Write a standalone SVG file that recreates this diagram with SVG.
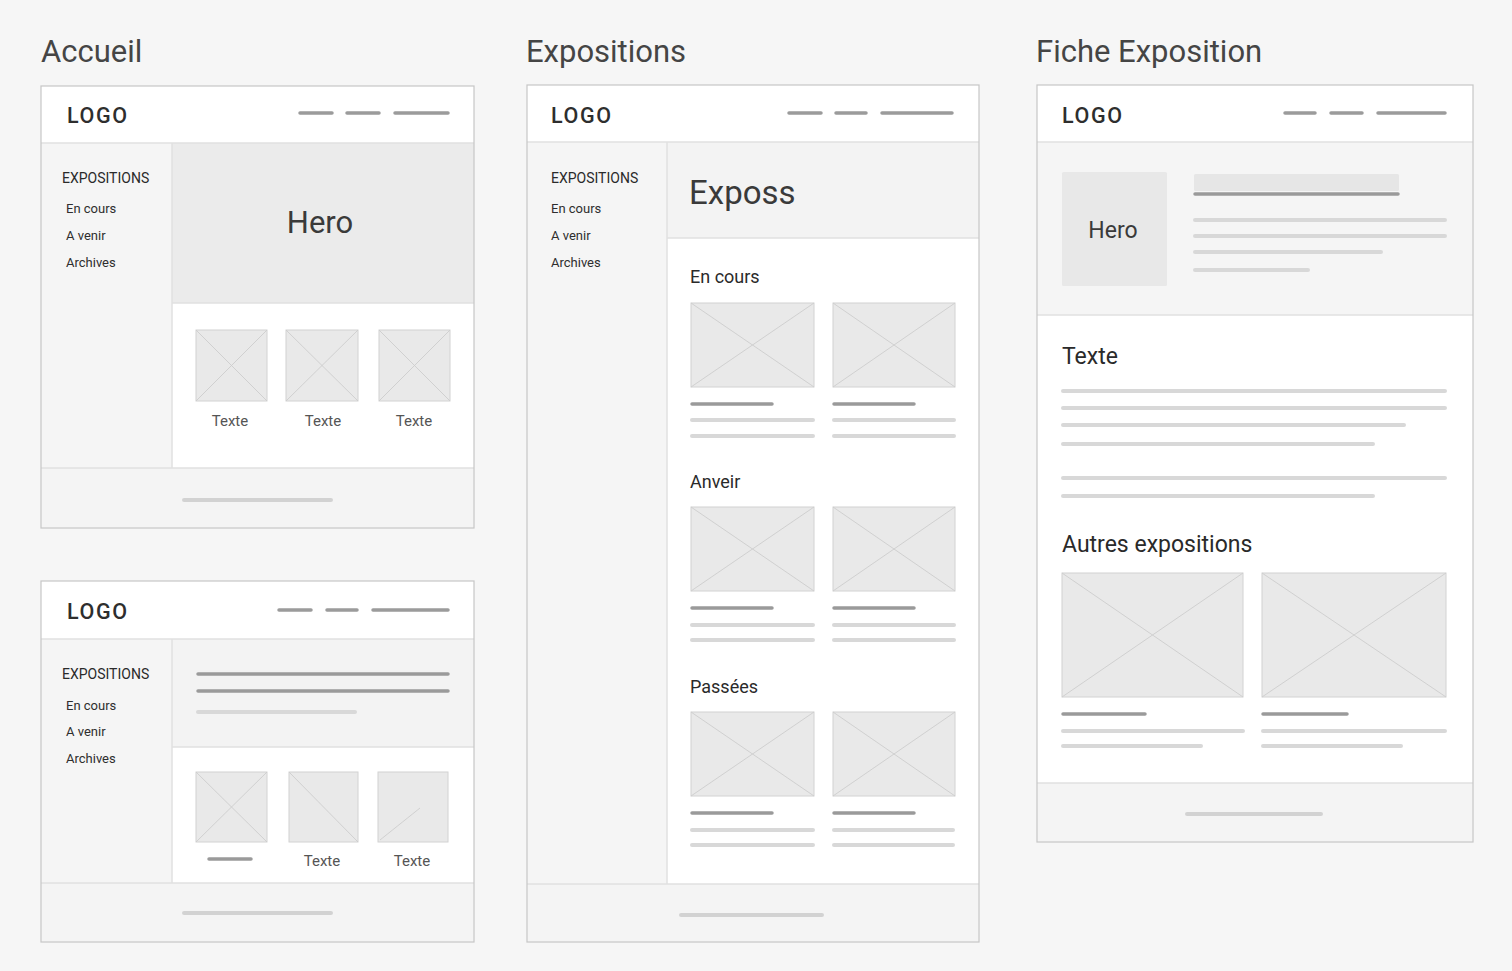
<svg xmlns="http://www.w3.org/2000/svg" width="1512" height="971" viewBox="0 0 1512 971">
<defs>
<style>
text{font-family:Roboto,"Liberation Sans",Arial,sans-serif;fill:#3a3a3a}
.title{font-size:31px;fill:#454545}
.logo{font-size:21.5px;letter-spacing:1.6px;fill:#2e2e2e;font-weight:500}
.side{font-size:14px;fill:#2a2a2a}
.sub{font-size:13px;fill:#2e2e2e}
.lbl{font-size:15px;fill:#555;text-anchor:middle}
.h{font-size:18px;fill:#2a2a2a}
.h2{font-size:23px;fill:#2a2a2a}
.frame{fill:none;stroke:#c6c6c6;stroke-width:1.2}
.sep{stroke:#e1e1e1;stroke-width:1.5;fill:none}
.sidebar{fill:#f5f5f5}
.band{fill:#f3f3f3}
.foot{fill:#f4f4f4}
.nav{stroke:#9b9b9b;stroke-width:3.5;stroke-linecap:round}
.dk{stroke:#9a9a9a;stroke-width:3.5;stroke-linecap:round}
.lt{stroke:#d8d8d8;stroke-width:4;stroke-linecap:round}
.ftb{stroke:#d2d2d2;stroke-width:4;stroke-linecap:round}
.ph{fill:#e9e9e9;stroke:#d2d2d2;stroke-width:1}
.x{stroke:#cdcdcd;stroke-width:0.9}
</style>
</defs>
<rect width="1512" height="971" fill="#f6f6f6"/>

<g id="titles">
<text class="title" x="41" y="62">Accueil</text>
<text class="title" x="526" y="62">Expositions</text>
<text class="title" x="1036" y="62">Fiche Exposition</text>
</g>

<g id="accueil-1">
<rect x="41" y="86" width="433" height="442" fill="#fff"/>
<rect class="sidebar" x="41" y="143" width="131" height="325"/>
<rect x="172" y="143" width="302" height="160" fill="#ebebeb"/>
<rect class="foot" x="41" y="468" width="433" height="60"/>
<line class="sep" x1="41" y1="143" x2="474" y2="143"/>
<line class="sep" x1="172" y1="143" x2="172" y2="468"/>
<line class="sep" x1="172" y1="303" x2="474" y2="303"/>
<line class="sep" x1="41" y1="468" x2="474" y2="468"/>
<text class="logo" x="67" y="123">LOGO</text>
<line class="nav" x1="300" y1="113" x2="332" y2="113"/>
<line class="nav" x1="347" y1="113" x2="379" y2="113"/>
<line class="nav" x1="395" y1="113" x2="448" y2="113"/>
<text class="side" x="62" y="183">EXPOSITIONS</text>
<text class="sub" x="66" y="213">En cours</text>
<text class="sub" x="66" y="240">A venir</text>
<text class="sub" x="66" y="267">Archives</text>
<text x="320" y="233" font-size="31" text-anchor="middle" fill="#444">Hero</text>
<rect class="ph" x="196" y="330" width="71" height="71"/>
<line class="x" x1="196" y1="330" x2="267" y2="401"/><line class="x" x1="267" y1="330" x2="196" y2="401"/>
<rect class="ph" x="286" y="330" width="72" height="71"/>
<line class="x" x1="286" y1="330" x2="358" y2="401"/><line class="x" x1="358" y1="330" x2="286" y2="401"/>
<rect class="ph" x="379" y="330" width="71" height="71"/>
<line class="x" x1="379" y1="330" x2="450" y2="401"/><line class="x" x1="450" y1="330" x2="379" y2="401"/>
<text class="lbl" x="230" y="426">Texte</text>
<text class="lbl" x="323" y="426">Texte</text>
<text class="lbl" x="414" y="426">Texte</text>
<line class="ftb" x1="184" y1="500" x2="331" y2="500"/>
<rect class="frame" x="41" y="86" width="433" height="442"/>
</g>

<g id="accueil-2">
<rect x="41" y="581" width="433" height="361" fill="#fff"/>
<rect class="sidebar" x="41" y="639" width="131" height="244"/>
<rect class="band" x="172" y="639" width="302" height="108"/>
<rect class="foot" x="41" y="883" width="433" height="59"/>
<line class="sep" x1="41" y1="639" x2="474" y2="639"/>
<line class="sep" x1="172" y1="639" x2="172" y2="883"/>
<line class="sep" x1="172" y1="747" x2="474" y2="747"/>
<line class="sep" x1="41" y1="883" x2="474" y2="883"/>
<text class="logo" x="67" y="619">LOGO</text>
<line class="nav" x1="279" y1="610" x2="311" y2="610"/>
<line class="nav" x1="327" y1="610" x2="357" y2="610"/>
<line class="nav" x1="373" y1="610" x2="448" y2="610"/>
<text class="side" x="62" y="679">EXPOSITIONS</text>
<text class="sub" x="66" y="710">En cours</text>
<text class="sub" x="66" y="736">A venir</text>
<text class="sub" x="66" y="763">Archives</text>
<line class="dk" x1="198" y1="674" x2="448" y2="674"/>
<line class="dk" x1="198" y1="691" x2="448" y2="691"/>
<line class="lt" x1="198" y1="712" x2="355" y2="712"/>
<rect class="ph" x="196" y="772" width="71" height="70"/>
<line class="x" x1="196" y1="772" x2="267" y2="842"/><line class="x" x1="267" y1="772" x2="196" y2="842"/>
<rect class="ph" x="289" y="772" width="69" height="70"/>
<line class="x" x1="289" y1="772" x2="358" y2="842"/>
<rect class="ph" x="378" y="772" width="70" height="70"/>
<line class="x" x1="380" y1="840" x2="420" y2="808"/>
<line class="dk" x1="209" y1="859" x2="251" y2="859"/>
<text class="lbl" x="322" y="866">Texte</text>
<text class="lbl" x="412" y="866">Texte</text>
<line class="ftb" x1="184" y1="913" x2="331" y2="913"/>
<rect class="frame" x="41" y="581" width="433" height="361"/>
</g>

<g id="expositions">
<rect x="527" y="85" width="452" height="857" fill="#fff"/>
<rect class="sidebar" x="527" y="142" width="140" height="742"/>
<rect class="band" x="667" y="142" width="312" height="96"/>
<rect class="foot" x="527" y="884" width="452" height="58"/>
<line class="sep" x1="527" y1="142" x2="979" y2="142"/>
<line class="sep" x1="667" y1="142" x2="667" y2="884"/>
<line class="sep" x1="667" y1="238" x2="979" y2="238"/>
<line class="sep" x1="527" y1="884" x2="979" y2="884"/>
<text class="logo" x="551" y="123">LOGO</text>
<line class="nav" x1="789" y1="113" x2="821" y2="113"/>
<line class="nav" x1="836" y1="113" x2="866" y2="113"/>
<line class="nav" x1="882" y1="113" x2="952" y2="113"/>
<text class="side" x="551" y="183">EXPOSITIONS</text>
<text class="sub" x="551" y="213">En cours</text>
<text class="sub" x="551" y="240">A venir</text>
<text class="sub" x="551" y="267">Archives</text>
<text x="689" y="204" font-size="33" fill="#444">Exposs</text>

<text class="h" x="690" y="283">En cours</text>
<rect class="ph" x="691" y="303" width="123" height="84"/>
<line class="x" x1="691" y1="303" x2="814" y2="387"/><line class="x" x1="814" y1="303" x2="691" y2="387"/>
<rect class="ph" x="833" y="303" width="122" height="84"/>
<line class="x" x1="833" y1="303" x2="955" y2="387"/><line class="x" x1="955" y1="303" x2="833" y2="387"/>
<line class="dk" x1="692" y1="404" x2="772" y2="404"/>
<line class="dk" x1="834" y1="404" x2="914" y2="404"/>
<line class="lt" x1="692" y1="420" x2="813" y2="420"/>
<line class="lt" x1="834" y1="420" x2="954" y2="420"/>
<line class="lt" x1="692" y1="436" x2="813" y2="436"/>
<line class="lt" x1="834" y1="436" x2="954" y2="436"/>

<text class="h" x="690" y="488">Anveir</text>
<rect class="ph" x="691" y="507" width="123" height="84"/>
<line class="x" x1="691" y1="507" x2="814" y2="591"/><line class="x" x1="814" y1="507" x2="691" y2="591"/>
<rect class="ph" x="833" y="507" width="122" height="84"/>
<line class="x" x1="833" y1="507" x2="955" y2="591"/><line class="x" x1="955" y1="507" x2="833" y2="591"/>
<line class="dk" x1="692" y1="608" x2="772" y2="608"/>
<line class="dk" x1="834" y1="608" x2="914" y2="608"/>
<line class="lt" x1="692" y1="625" x2="813" y2="625"/>
<line class="lt" x1="834" y1="625" x2="954" y2="625"/>
<line class="lt" x1="692" y1="640" x2="813" y2="640"/>
<line class="lt" x1="834" y1="640" x2="954" y2="640"/>

<text class="h" x="690" y="693">Passées</text>
<rect class="ph" x="691" y="712" width="123" height="84"/>
<line class="x" x1="691" y1="712" x2="814" y2="796"/><line class="x" x1="814" y1="712" x2="691" y2="796"/>
<rect class="ph" x="833" y="712" width="122" height="84"/>
<line class="x" x1="833" y1="712" x2="955" y2="796"/><line class="x" x1="955" y1="712" x2="833" y2="796"/>
<line class="dk" x1="692" y1="813" x2="772" y2="813"/>
<line class="dk" x1="834" y1="813" x2="914" y2="813"/>
<line class="lt" x1="692" y1="830" x2="813" y2="830"/>
<line class="lt" x1="834" y1="830" x2="953" y2="830"/>
<line class="lt" x1="692" y1="845" x2="813" y2="845"/>
<line class="lt" x1="834" y1="845" x2="953" y2="845"/>

<line class="ftb" x1="681" y1="915" x2="822" y2="915"/>
<rect class="frame" x="527" y="85" width="452" height="857"/>
</g>

<g id="fiche-exposition">
<rect x="1037" y="85" width="436" height="757" fill="#fff"/>
<rect class="sidebar" x="1037" y="142" width="436" height="173"/>
<rect class="foot" x="1037" y="783" width="436" height="59"/>
<line class="sep" x1="1037" y1="142" x2="1473" y2="142"/>
<line class="sep" x1="1037" y1="315" x2="1473" y2="315"/>
<line class="sep" x1="1037" y1="783" x2="1473" y2="783"/>
<text class="logo" x="1062" y="123">LOGO</text>
<line class="nav" x1="1285" y1="113" x2="1315" y2="113"/>
<line class="nav" x1="1331" y1="113" x2="1362" y2="113"/>
<line class="nav" x1="1378" y1="113" x2="1445" y2="113"/>
<rect x="1062" y="172" width="105" height="114" rx="1.5" fill="#e8e8e8"/>
<text x="1113" y="238" font-size="23" text-anchor="middle" fill="#333">Hero</text>
<rect x="1194" y="174" width="205" height="17" rx="1.5" fill="#e6e6e6"/>
<line class="dk" x1="1195" y1="194" x2="1398" y2="194"/>
<line class="lt" x1="1195" y1="220" x2="1445" y2="220"/>
<line class="lt" x1="1195" y1="236" x2="1445" y2="236"/>
<line class="lt" x1="1195" y1="252" x2="1381" y2="252"/>
<line class="lt" x1="1195" y1="270" x2="1308" y2="270"/>

<text class="h2" x="1062" y="364">Texte</text>
<line class="lt" x1="1063" y1="391" x2="1445" y2="391"/>
<line class="lt" x1="1063" y1="408" x2="1445" y2="408"/>
<line class="lt" x1="1063" y1="425" x2="1404" y2="425"/>
<line class="lt" x1="1063" y1="444" x2="1373" y2="444"/>
<line class="lt" x1="1063" y1="478" x2="1445" y2="478"/>
<line class="lt" x1="1063" y1="496" x2="1373" y2="496"/>

<text class="h2" x="1062" y="552">Autres expositions</text>
<rect class="ph" x="1062" y="573" width="181" height="124"/>
<line class="x" x1="1062" y1="573" x2="1243" y2="697"/><line class="x" x1="1243" y1="573" x2="1062" y2="697"/>
<rect class="ph" x="1262" y="573" width="184" height="124"/>
<line class="x" x1="1262" y1="573" x2="1446" y2="697"/><line class="x" x1="1446" y1="573" x2="1262" y2="697"/>
<line class="dk" x1="1063" y1="714" x2="1145" y2="714"/>
<line class="dk" x1="1263" y1="714" x2="1347" y2="714"/>
<line class="lt" x1="1063" y1="731" x2="1243" y2="731"/>
<line class="lt" x1="1263" y1="731" x2="1445" y2="731"/>
<line class="lt" x1="1063" y1="746" x2="1201" y2="746"/>
<line class="lt" x1="1263" y1="746" x2="1401" y2="746"/>

<line class="ftb" x1="1187" y1="814" x2="1321" y2="814"/>
<rect class="frame" x="1037" y="85" width="436" height="757"/>
</g>
</svg>
